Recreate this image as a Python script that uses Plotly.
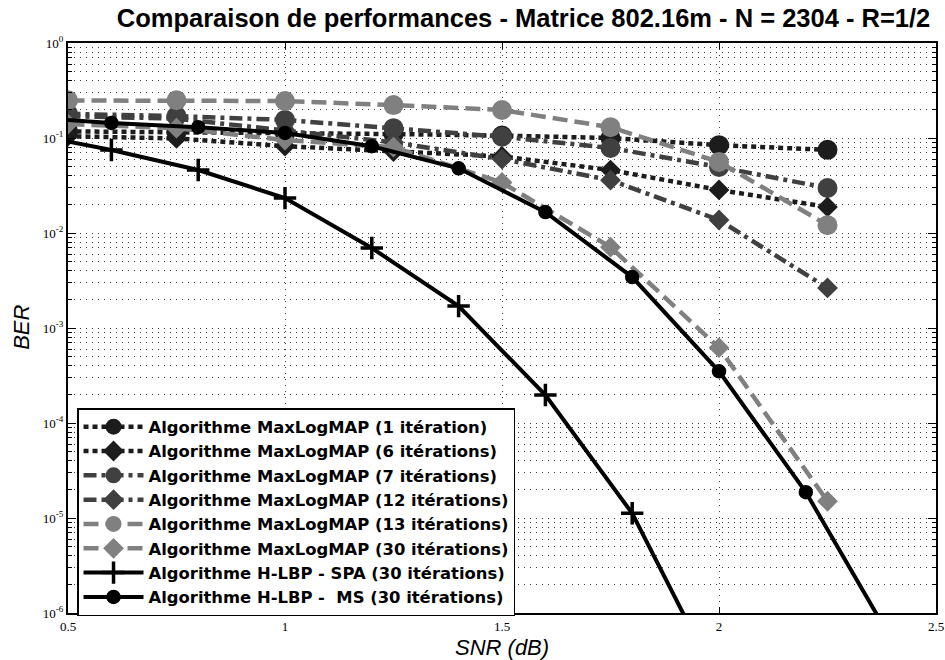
import plotly.graph_objects as go

# ---------------- data ----------------
snr_mlm = [0.25, 0.5, 0.75, 1.0, 1.25, 1.5, 1.75, 2.0, 2.25]
ber_it1 = [0.12, 0.118, 0.115, 0.112, 0.11, 0.106, 0.1, 0.084, 0.075]
ber_it6 = [0.11, 0.105, 0.099, 0.082, 0.072, 0.064, 0.046, 0.0284, 0.0188]
ber_it7 = [0.19, 0.18, 0.17, 0.155, 0.127, 0.103, 0.0785, 0.0495, 0.0298]
ber_it12 = [0.18, 0.17, 0.16, 0.12, 0.09, 0.06, 0.036, 0.0137, 0.00264]
ber_it13 = [0.25, 0.25, 0.25, 0.245, 0.222, 0.197, 0.13, 0.056, 0.0121]
ber_it30 = [0.155, 0.14, 0.127, 0.095, 0.08, 0.034, 0.0071, 0.00062, 0.000015]

snr_spa = [0.4, 0.6, 0.8, 1.0, 1.2, 1.4, 1.6, 1.8, 2.0]
ber_spa = [0.113, 0.0748, 0.046, 0.0233, 0.00695, 0.0017, 0.000197, 0.0000112, 0.00000018]

snr_ms = [0.4, 0.6, 0.8, 1.0, 1.2, 1.4, 1.6, 1.8, 2.0, 2.2, 2.4]
ber_ms = [0.166, 0.144, 0.13, 0.113, 0.082, 0.048, 0.0166, 0.00344, 0.00035, 0.0000187, 0.0000005]

names = [
    "Algorithme MaxLogMAP (1 itération)",
    "Algorithme MaxLogMAP (6 itérations)",
    "Algorithme MaxLogMAP (7 itérations)",
    "Algorithme MaxLogMAP (12 itérations)",
    "Algorithme MaxLogMAP (13 itérations)",
    "Algorithme MaxLogMAP (30 itérations)",
    "Algorithme H-LBP - SPA (30 itérations)",
    "Algorithme H-LBP -  MS (30 itérations)",
]

x_ticks = [0.5, 1, 1.5, 2, 2.5]
x_ticktext = ["0.5", "1", "1.5", "2", "2.5"]
y_exps = [-6, -5, -4, -3, -2, -1, 0]

# ---------------- styles ----------------
DARK = "#1c1c1c"
MID = "#404040"
LIGHT = "#808080"
DOT = "5px,4px"
DASHDOT = "13px,5px,4px,5px"
DASH = "15px,7px"

fig = go.Figure()

mlm_series = [
    (ber_it1, DARK, DOT, "circle", 20),
    (ber_it6, DARK, DOT, "diamond", 16),
    (ber_it7, MID, DASHDOT, "circle", 20),
    (ber_it12, MID, DASHDOT, "diamond", 16),
    (ber_it13, LIGHT, DASH, "circle", 20),
    (ber_it30, LIGHT, DASH, "diamond", 16),
]
for i, (vals, col, dash, sym, size) in enumerate(mlm_series):
    fig.add_trace(go.Scatter(
        x=snr_mlm, y=vals, name=names[i], mode="lines+markers",
        line=dict(color=col, width=4.5, dash=dash),
        marker=dict(symbol=sym, size=size, color=col, line=dict(width=0)),
    ))

fig.add_trace(go.Scatter(
    x=snr_spa, y=ber_spa, name=names[6], mode="lines+markers",
    line=dict(color="black", width=4),
    marker=dict(symbol="cross-thin", size=16, color="black",
                line=dict(width=3.5, color="black")),
))
fig.add_trace(go.Scatter(
    x=snr_ms, y=ber_ms, name=names[7], mode="lines+markers",
    line=dict(color="black", width=4),
    marker=dict(symbol="circle", size=13, color="black",
                line=dict(width=1.5, color="black")),
))

y_tickvals = [10.0 ** e for e in y_exps]
y_ticktext = ["10<sup>%d</sup>" % e for e in y_exps]
y_minor = [m * 10.0 ** e for e in y_exps[:-1] for m in range(2, 10)]

grid_col = "#3a3a3a"
fig.update_layout(
    width=945, height=660,
    margin=dict(l=68, r=9, t=43, b=47),
    paper_bgcolor="white", plot_bgcolor="white",
    title=dict(
        text="<b>Comparaison de performances - Matrice 802.16m - N = 2304 - R=1/2</b>",
        font=dict(family="Liberation Sans, Arial", size=25.5, color="black"),
        x=0.554, xref="container", xanchor="center",
        y=0.972, yref="container", yanchor="middle",
    ),
    xaxis=dict(
        range=[0.5, 2.5], tickvals=x_ticks, ticktext=x_ticktext, automargin=False,
        ticks="inside", ticklen=6, tickwidth=1, tickcolor="black",
        showline=True, linecolor="black", linewidth=2, mirror="ticks",
        showgrid=True, gridcolor=grid_col, gridwidth=1, griddash="1px,5px",
        zeroline=False,
        tickfont=dict(family="Liberation Serif, Times New Roman", size=13, color="black"),
    ),
    yaxis=dict(
        type="log", range=[-6, 0], tickvals=y_tickvals, ticktext=y_ticktext, automargin=False,
        ticks="inside", ticklen=8, tickwidth=1, tickcolor="black",
        showline=True, linecolor="black", linewidth=2, mirror="ticks",
        showgrid=True, gridcolor=grid_col, gridwidth=1, griddash="1px,5px",
        zeroline=False,
        minor=dict(tickvals=y_minor, ticks="inside", ticklen=4, tickcolor="black",
                   showgrid=True, gridcolor=grid_col, gridwidth=1, griddash="1px,5px"),
        tickfont=dict(family="Liberation Serif, Times New Roman", size=13, color="black"),
    ),
    legend=dict(
        x=0.0104, y=0.3596, xanchor="left", yanchor="top",
        bgcolor="white", bordercolor="black", borderwidth=1.5,
        font=dict(family="DejaVu Sans", size=16.4, color="black", weight="bold"),
        itemwidth=60, tracegroupgap=0,
    ),
    showlegend=True,
    annotations=[
        dict(text="<i>SNR (dB)</i>", xref="paper", yref="paper",
             x=0.5, y=-0.0614, xanchor="center", yanchor="middle", showarrow=False,
             font=dict(family="Liberation Sans, Arial", size=22, color="black")),
        dict(text="<i>BER</i>", xref="paper", yref="paper", textangle=-90,
             x=-0.053, y=0.502, xanchor="center", yanchor="middle", showarrow=False,
             font=dict(family="Liberation Sans, Arial", size=22, color="black")),
    ],
)

fig.write_html(
    "out.html",
    config={"displayModeBar": False},
    post_script="document.body.style.margin='0';document.body.style.overflow='hidden';",
)
